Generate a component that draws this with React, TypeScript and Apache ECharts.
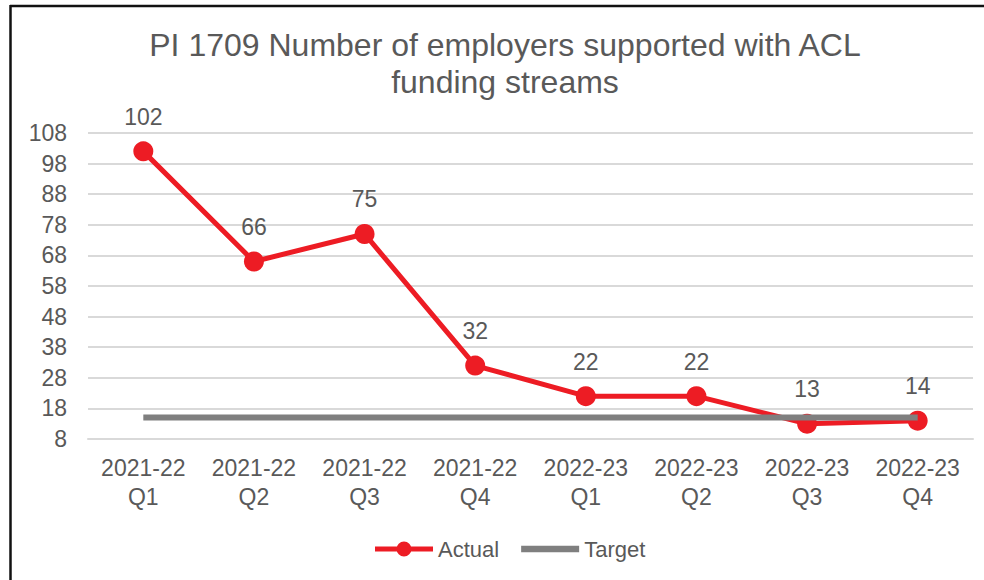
import React, { useEffect, useRef } from "react";
import * as echarts from "echarts";

const titleLines = ["PI 1709 Number of employers supported with ACL", "funding streams"];
const categories = [
  "2021-22\nQ1",
  "2021-22\nQ2",
  "2021-22\nQ3",
  "2021-22\nQ4",
  "2022-23\nQ1",
  "2022-23\nQ2",
  "2022-23\nQ3",
  "2022-23\nQ4",
];
const actualValues = [102, 66, 75, 32, 22, 22, 13, 14];
const targetValues = [15, 15, 15, 15, 15, 15, 15, 15];
const yMin = 8;
const yMax = 108;
const yInterval = 10;

const FONT = "'Liberation Sans', Arial, sans-serif";
const TEXT = "#595959";
const RED = "#ED1C24";
const GRAY = "#7F7F7F";

const actualIcon =
  "path://M0,5 L58,5 L58,10 L0,10 Z M21.5,7.5 A7.5,7.5 0 1,1 36.5,7.5 A7.5,7.5 0 1,1 21.5,7.5 Z";
const targetIcon = "path://M0,0 L55,0 L55,6 L0,6 Z";

export default function App() {
  const ref = useRef<HTMLDivElement>(null);
  useEffect(() => {
    if (!ref.current) return;
    const chart = echarts.init(ref.current, undefined, { renderer: "svg" });
    chart.setOption({
      animation: false,
      backgroundColor: "#ffffff",
      textStyle: { fontFamily: FONT },
      title: {
        text: titleLines.join("\n"),
        left: 505,
        top: 26,
        padding: 0,
        textAlign: "center",
        textStyle: {
          fontFamily: FONT,
          fontSize: 32,
          fontWeight: "normal",
          color: TEXT,
          lineHeight: 37,
        },
      },
      legend: {
        left: 370,
        top: 533,
        itemWidth: 58,
        itemHeight: 20,
        itemGap: 22,
        textStyle: { fontFamily: FONT, fontSize: 22, color: TEXT },
        data: [
          { name: "Actual", icon: actualIcon, itemStyle: { color: RED } },
          { name: "Target", icon: targetIcon, itemStyle: { color: GRAY } },
        ],
      },
      grid: { left: 88, right: 11, top: 133, bottom: 141, containLabel: false },
      xAxis: {
        type: "category",
        data: categories,
        boundaryGap: true,
        axisLine: { show: true, lineStyle: { color: "#D9D9D9", width: 2 } },
        axisTick: { show: false },
        axisLabel: {
          fontFamily: FONT,
          fontSize: 23,
          color: TEXT,
          lineHeight: 29,
          margin: 14,
          interval: 0,
        },
      },
      yAxis: {
        type: "value",
        min: yMin,
        max: yMax,
        interval: yInterval,
        axisLine: { show: false },
        axisTick: { show: false },
        splitLine: { lineStyle: { color: "#D9D9D9", width: 2 } },
        axisLabel: { fontFamily: FONT, fontSize: 23, color: TEXT, margin: 21 },
      },
      series: [
        {
          name: "Actual",
          type: "line",
          data: actualValues,
          symbol: "circle",
          symbolSize: 20,
          itemStyle: { color: RED },
          lineStyle: { color: RED, width: 5 },
          label: {
            show: true,
            position: "top",
            distance: 13,
            fontFamily: FONT,
            fontSize: 23,
            color: TEXT,
          },
          z: 2,
        },
        {
          name: "Target",
          type: "line",
          data: targetValues,
          symbol: "none",
          itemStyle: { color: GRAY },
          lineStyle: { color: GRAY, width: 6 },
          z: 3,
        },
      ],
      graphic: [
        {
          type: "line",
          shape: { x1: 10, y1: 6, x2: 984, y2: 6 },
          style: { stroke: "#111111", lineWidth: 2.5 },
          silent: true,
        },
        {
          type: "line",
          shape: { x1: 10.5, y1: 5, x2: 10.5, y2: 580 },
          style: { stroke: "#111111", lineWidth: 2.5 },
          silent: true,
        },
      ],
    });
    return () => chart.dispose();
  }, []);
  return (
    <div
      ref={ref}
      style={{ position: "fixed", left: 0, top: 0, width: 984, height: 580 }}
    />
  );
}
